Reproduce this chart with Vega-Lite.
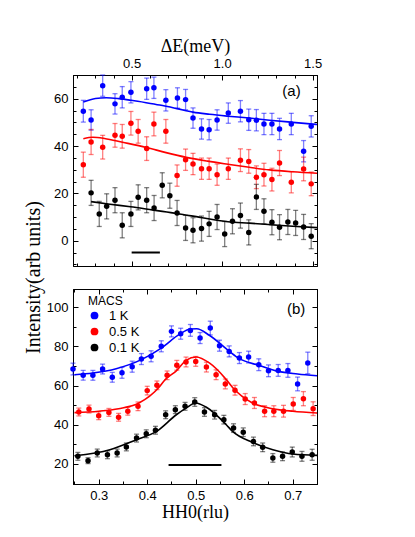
{
  "$schema": "https://vega.github.io/schema/vega-lite/v6.json",
  "background": "white",
  "autosize": {"type": "pad"},
  "padding": {"left": 22, "top": 36, "right": 5, "bottom": 5},
  "spacing": 23,
  "bounds": "flush",
  "resolve": {"scale": {"color": "independent", "x": "independent", "y": "independent"}, "legend": {"color": "independent"}},
  "datasets": {
    "a_pts": [
      {"E": 0.233, "v": 54.7, "e": 4.6, "T": "1 K"},
      {"E": 0.276, "v": 51.0, "e": 4.3, "T": "1 K"},
      {"E": 0.340, "v": 65.5, "e": 4.5, "T": "1 K"},
      {"E": 0.408, "v": 57.8, "e": 4.3, "T": "1 K"},
      {"E": 0.448, "v": 60.6, "e": 4.5, "T": "1 K"},
      {"E": 0.496, "v": 62.7, "e": 4.5, "T": "1 K"},
      {"E": 0.583, "v": 64.2, "e": 4.5, "T": "1 K"},
      {"E": 0.623, "v": 64.6, "e": 4.5, "T": "1 K"},
      {"E": 0.689, "v": 59.3, "e": 4.5, "T": "1 K"},
      {"E": 0.753, "v": 60.3, "e": 4.3, "T": "1 K"},
      {"E": 0.798, "v": 59.6, "e": 4.3, "T": "1 K"},
      {"E": 0.839, "v": 51.8, "e": 4.3, "T": "1 K"},
      {"E": 0.886, "v": 47.2, "e": 4.3, "T": "1 K"},
      {"E": 0.928, "v": 46.9, "e": 4.3, "T": "1 K"},
      {"E": 0.972, "v": 51.0, "e": 4.3, "T": "1 K"},
      {"E": 1.034, "v": 53.9, "e": 4.3, "T": "1 K"},
      {"E": 1.101, "v": 54.7, "e": 4.5, "T": "1 K"},
      {"E": 1.147, "v": 51.1, "e": 4.5, "T": "1 K"},
      {"E": 1.189, "v": 50.9, "e": 4.5, "T": "1 K"},
      {"E": 1.231, "v": 49.3, "e": 4.5, "T": "1 K"},
      {"E": 1.275, "v": 49.3, "e": 4.5, "T": "1 K"},
      {"E": 1.317, "v": 47.2, "e": 4.5, "T": "1 K"},
      {"E": 1.382, "v": 49.3, "e": 4.5, "T": "1 K"},
      {"E": 1.450, "v": 37.8, "e": 4.5, "T": "1 K"},
      {"E": 1.492, "v": 48.3, "e": 4.5, "T": "1 K"},
      {"E": 0.233, "v": 32.1, "e": 5.3, "T": "0.5 K"},
      {"E": 0.276, "v": 41.7, "e": 5.3, "T": "0.5 K"},
      {"E": 0.340, "v": 39.5, "e": 5.0, "T": "0.5 K"},
      {"E": 0.408, "v": 44.5, "e": 5.0, "T": "0.5 K"},
      {"E": 0.448, "v": 44.1, "e": 5.0, "T": "0.5 K"},
      {"E": 0.496, "v": 49.6, "e": 5.0, "T": "0.5 K"},
      {"E": 0.536, "v": 46.2, "e": 5.0, "T": "0.5 K"},
      {"E": 0.583, "v": 38.9, "e": 5.0, "T": "0.5 K"},
      {"E": 0.623, "v": 49.3, "e": 5.0, "T": "0.5 K"},
      {"E": 0.689, "v": 46.2, "e": 5.0, "T": "0.5 K"},
      {"E": 0.751, "v": 27.5, "e": 4.5, "T": "0.5 K"},
      {"E": 0.798, "v": 34.2, "e": 4.5, "T": "0.5 K"},
      {"E": 0.839, "v": 32.4, "e": 4.5, "T": "0.5 K"},
      {"E": 0.886, "v": 30.4, "e": 4.5, "T": "0.5 K"},
      {"E": 0.928, "v": 30.4, "e": 4.5, "T": "0.5 K"},
      {"E": 0.972, "v": 27.9, "e": 4.5, "T": "0.5 K"},
      {"E": 1.034, "v": 30.4, "e": 4.5, "T": "0.5 K"},
      {"E": 1.101, "v": 34.0, "e": 4.8, "T": "0.5 K"},
      {"E": 1.147, "v": 33.5, "e": 5.0, "T": "0.5 K"},
      {"E": 1.189, "v": 26.8, "e": 4.8, "T": "0.5 K"},
      {"E": 1.231, "v": 27.9, "e": 4.8, "T": "0.5 K"},
      {"E": 1.275, "v": 25.8, "e": 4.8, "T": "0.5 K"},
      {"E": 1.317, "v": 32.8, "e": 5.3, "T": "0.5 K"},
      {"E": 1.382, "v": 24.7, "e": 4.5, "T": "0.5 K"},
      {"E": 1.450, "v": 30.3, "e": 5.0, "T": "0.5 K"},
      {"E": 1.492, "v": 24.0, "e": 5.0, "T": "0.5 K"},
      {"E": 0.276, "v": 20.2, "e": 5.3, "T": "0.1 K"},
      {"E": 0.321, "v": 11.3, "e": 5.3, "T": "0.1 K"},
      {"E": 0.362, "v": 14.5, "e": 5.3, "T": "0.1 K"},
      {"E": 0.408, "v": 17.1, "e": 5.3, "T": "0.1 K"},
      {"E": 0.448, "v": 6.5, "e": 5.3, "T": "0.1 K"},
      {"E": 0.496, "v": 11.3, "e": 5.3, "T": "0.1 K"},
      {"E": 0.536, "v": 18.3, "e": 5.3, "T": "0.1 K"},
      {"E": 0.583, "v": 17.1, "e": 5.3, "T": "0.1 K"},
      {"E": 0.624, "v": 13.8, "e": 5.3, "T": "0.1 K"},
      {"E": 0.669, "v": 23.4, "e": 5.3, "T": "0.1 K"},
      {"E": 0.711, "v": 19.0, "e": 5.3, "T": "0.1 K"},
      {"E": 0.751, "v": 11.7, "e": 5.3, "T": "0.1 K"},
      {"E": 0.798, "v": 5.4, "e": 5.3, "T": "0.1 K"},
      {"E": 0.839, "v": 4.4, "e": 5.3, "T": "0.1 K"},
      {"E": 0.886, "v": 5.1, "e": 5.3, "T": "0.1 K"},
      {"E": 0.928, "v": 7.1, "e": 5.3, "T": "0.1 K"},
      {"E": 0.972, "v": 10.0, "e": 5.3, "T": "0.1 K"},
      {"E": 1.014, "v": 2.8, "e": 5.3, "T": "0.1 K"},
      {"E": 1.057, "v": 8.2, "e": 5.3, "T": "0.1 K"},
      {"E": 1.101, "v": 10.6, "e": 5.3, "T": "0.1 K"},
      {"E": 1.147, "v": 3.5, "e": 5.3, "T": "0.1 K"},
      {"E": 1.189, "v": 18.5, "e": 5.3, "T": "0.1 K"},
      {"E": 1.231, "v": 12.4, "e": 5.3, "T": "0.1 K"},
      {"E": 1.275, "v": 7.8, "e": 5.3, "T": "0.1 K"},
      {"E": 1.317, "v": 5.7, "e": 5.3, "T": "0.1 K"},
      {"E": 1.363, "v": 7.9, "e": 5.3, "T": "0.1 K"},
      {"E": 1.406, "v": 7.5, "e": 5.3, "T": "0.1 K"},
      {"E": 1.450, "v": 5.8, "e": 5.3, "T": "0.1 K"},
      {"E": 1.492, "v": 1.9, "e": 5.3, "T": "0.1 K"}
    ],
    "a_fit": [
      {"E": 0.233, "v": 58.6, "T": "1 K"},
      {"E": 0.30, "v": 60.1, "T": "1 K"},
      {"E": 0.36, "v": 60.4, "T": "1 K"},
      {"E": 0.43, "v": 60.0, "T": "1 K"},
      {"E": 0.498, "v": 59.3, "T": "1 K"},
      {"E": 0.58, "v": 58.3, "T": "1 K"},
      {"E": 0.655, "v": 57.3, "T": "1 K"},
      {"E": 0.75, "v": 55.8, "T": "1 K"},
      {"E": 0.839, "v": 54.3, "T": "1 K"},
      {"E": 0.93, "v": 53.4, "T": "1 K"},
      {"E": 1.032, "v": 52.6, "T": "1 K"},
      {"E": 1.15, "v": 51.8, "T": "1 K"},
      {"E": 1.262, "v": 50.9, "T": "1 K"},
      {"E": 1.39, "v": 50.0, "T": "1 K"},
      {"E": 1.524, "v": 49.1, "T": "1 K"},
      {"E": 0.233, "v": 43.1, "T": "0.5 K"},
      {"E": 0.286, "v": 43.7, "T": "0.5 K"},
      {"E": 0.35, "v": 43.2, "T": "0.5 K"},
      {"E": 0.45, "v": 41.6, "T": "0.5 K"},
      {"E": 0.581, "v": 39.4, "T": "0.5 K"},
      {"E": 0.69, "v": 37.2, "T": "0.5 K"},
      {"E": 0.802, "v": 35.2, "T": "0.5 K"},
      {"E": 0.92, "v": 33.6, "T": "0.5 K"},
      {"E": 1.032, "v": 32.3, "T": "0.5 K"},
      {"E": 1.15, "v": 31.0, "T": "0.5 K"},
      {"E": 1.262, "v": 29.9, "T": "0.5 K"},
      {"E": 1.39, "v": 29.1, "T": "0.5 K"},
      {"E": 1.524, "v": 28.5, "T": "0.5 K"},
      {"E": 0.276, "v": 16.5, "T": "0.1 K"},
      {"E": 0.38, "v": 15.4, "T": "0.1 K"},
      {"E": 0.494, "v": 14.3, "T": "0.1 K"},
      {"E": 0.62, "v": 12.9, "T": "0.1 K"},
      {"E": 0.75, "v": 11.5, "T": "0.1 K"},
      {"E": 0.89, "v": 9.7, "T": "0.1 K"},
      {"E": 1.032, "v": 8.0, "T": "0.1 K"},
      {"E": 1.15, "v": 7.4, "T": "0.1 K"},
      {"E": 1.262, "v": 6.8, "T": "0.1 K"},
      {"E": 1.39, "v": 6.1, "T": "0.1 K"},
      {"E": 1.524, "v": 5.5, "T": "0.1 K"}
    ],
    "a_bar": [{"x1": 0.5, "x2": 0.656, "y": -5}],
    "b_pts": [
      {"H": 0.247, "v": 68.4, "e": 3.0, "T": "1 K"},
      {"H": 0.268, "v": 65.2, "e": 2.5, "T": "1 K"},
      {"H": 0.288, "v": 65.2, "e": 2.5, "T": "1 K"},
      {"H": 0.308, "v": 68.4, "e": 2.5, "T": "1 K"},
      {"H": 0.328, "v": 64.2, "e": 2.5, "T": "1 K"},
      {"H": 0.348, "v": 66.5, "e": 2.8, "T": "1 K"},
      {"H": 0.369, "v": 69.6, "e": 2.8, "T": "1 K"},
      {"H": 0.388, "v": 73.5, "e": 2.8, "T": "1 K"},
      {"H": 0.408, "v": 74.9, "e": 2.8, "T": "1 K"},
      {"H": 0.429, "v": 80.0, "e": 2.8, "T": "1 K"},
      {"H": 0.450, "v": 87.6, "e": 2.8, "T": "1 K"},
      {"H": 0.469, "v": 86.4, "e": 2.8, "T": "1 K"},
      {"H": 0.489, "v": 88.1, "e": 3.0, "T": "1 K"},
      {"H": 0.509, "v": 84.2, "e": 2.8, "T": "1 K"},
      {"H": 0.530, "v": 89.3, "e": 3.5, "T": "1 K"},
      {"H": 0.549, "v": 80.3, "e": 2.8, "T": "1 K"},
      {"H": 0.569, "v": 77.4, "e": 2.8, "T": "1 K"},
      {"H": 0.590, "v": 74.0, "e": 2.8, "T": "1 K"},
      {"H": 0.609, "v": 74.5, "e": 3.0, "T": "1 K"},
      {"H": 0.630, "v": 70.6, "e": 3.0, "T": "1 K"},
      {"H": 0.650, "v": 67.5, "e": 3.0, "T": "1 K"},
      {"H": 0.670, "v": 67.7, "e": 3.0, "T": "1 K"},
      {"H": 0.690, "v": 67.7, "e": 3.5, "T": "1 K"},
      {"H": 0.710, "v": 60.8, "e": 3.5, "T": "1 K"},
      {"H": 0.731, "v": 71.5, "e": 5.5, "T": "1 K"},
      {"H": 0.259, "v": 46.5, "e": 2.0, "T": "0.5 K"},
      {"H": 0.280, "v": 48.0, "e": 2.0, "T": "0.5 K"},
      {"H": 0.300, "v": 44.6, "e": 2.0, "T": "0.5 K"},
      {"H": 0.321, "v": 46.3, "e": 2.0, "T": "0.5 K"},
      {"H": 0.341, "v": 43.8, "e": 2.0, "T": "0.5 K"},
      {"H": 0.360, "v": 46.9, "e": 2.0, "T": "0.5 K"},
      {"H": 0.381, "v": 49.4, "e": 2.2, "T": "0.5 K"},
      {"H": 0.400, "v": 57.4, "e": 2.2, "T": "0.5 K"},
      {"H": 0.420, "v": 60.1, "e": 2.2, "T": "0.5 K"},
      {"H": 0.441, "v": 65.2, "e": 2.2, "T": "0.5 K"},
      {"H": 0.461, "v": 70.3, "e": 2.5, "T": "0.5 K"},
      {"H": 0.480, "v": 72.0, "e": 2.5, "T": "0.5 K"},
      {"H": 0.500, "v": 72.3, "e": 2.5, "T": "0.5 K"},
      {"H": 0.522, "v": 69.4, "e": 2.5, "T": "0.5 K"},
      {"H": 0.542, "v": 65.5, "e": 2.5, "T": "0.5 K"},
      {"H": 0.561, "v": 60.8, "e": 2.5, "T": "0.5 K"},
      {"H": 0.581, "v": 57.6, "e": 2.5, "T": "0.5 K"},
      {"H": 0.602, "v": 53.1, "e": 2.8, "T": "0.5 K"},
      {"H": 0.621, "v": 51.1, "e": 2.8, "T": "0.5 K"},
      {"H": 0.642, "v": 46.9, "e": 2.8, "T": "0.5 K"},
      {"H": 0.661, "v": 46.9, "e": 2.8, "T": "0.5 K"},
      {"H": 0.681, "v": 46.9, "e": 3.0, "T": "0.5 K"},
      {"H": 0.701, "v": 50.6, "e": 3.3, "T": "0.5 K"},
      {"H": 0.722, "v": 53.3, "e": 3.6, "T": "0.5 K"},
      {"H": 0.742, "v": 48.2, "e": 3.5, "T": "0.5 K"},
      {"H": 0.257, "v": 23.9, "e": 2.0, "T": "0.1 K"},
      {"H": 0.278, "v": 21.7, "e": 1.5, "T": "0.1 K"},
      {"H": 0.297, "v": 25.6, "e": 2.0, "T": "0.1 K"},
      {"H": 0.318, "v": 24.7, "e": 2.0, "T": "0.1 K"},
      {"H": 0.338, "v": 25.6, "e": 2.0, "T": "0.1 K"},
      {"H": 0.357, "v": 28.7, "e": 2.0, "T": "0.1 K"},
      {"H": 0.378, "v": 33.2, "e": 2.0, "T": "0.1 K"},
      {"H": 0.398, "v": 35.4, "e": 2.0, "T": "0.1 K"},
      {"H": 0.417, "v": 37.2, "e": 2.0, "T": "0.1 K"},
      {"H": 0.438, "v": 45.1, "e": 2.0, "T": "0.1 K"},
      {"H": 0.458, "v": 47.7, "e": 2.0, "T": "0.1 K"},
      {"H": 0.478, "v": 49.4, "e": 2.0, "T": "0.1 K"},
      {"H": 0.498, "v": 51.6, "e": 2.2, "T": "0.1 K"},
      {"H": 0.518, "v": 46.5, "e": 2.2, "T": "0.1 K"},
      {"H": 0.539, "v": 45.1, "e": 2.2, "T": "0.1 K"},
      {"H": 0.558, "v": 42.6, "e": 2.2, "T": "0.1 K"},
      {"H": 0.578, "v": 38.3, "e": 2.2, "T": "0.1 K"},
      {"H": 0.598, "v": 36.2, "e": 2.2, "T": "0.1 K"},
      {"H": 0.619, "v": 31.5, "e": 2.2, "T": "0.1 K"},
      {"H": 0.638, "v": 28.5, "e": 2.2, "T": "0.1 K"},
      {"H": 0.659, "v": 23.1, "e": 2.2, "T": "0.1 K"},
      {"H": 0.679, "v": 23.9, "e": 2.2, "T": "0.1 K"},
      {"H": 0.699, "v": 26.1, "e": 2.5, "T": "0.1 K"},
      {"H": 0.719, "v": 23.9, "e": 2.5, "T": "0.1 K"},
      {"H": 0.740, "v": 24.7, "e": 2.8, "T": "0.1 K"}
    ],
    "b_fit": [
      {"H": 0.25, "v": 65.5, "T": "1 K"},
      {"H": 0.288, "v": 66.4, "T": "1 K"},
      {"H": 0.336, "v": 68.6, "T": "1 K"},
      {"H": 0.388, "v": 73.2, "T": "1 K"},
      {"H": 0.429, "v": 79.1, "T": "1 K"},
      {"H": 0.467, "v": 86.2, "T": "1 K"},
      {"H": 0.489, "v": 88.8, "T": "1 K"},
      {"H": 0.502, "v": 88.9, "T": "1 K"},
      {"H": 0.528, "v": 85.6, "T": "1 K"},
      {"H": 0.568, "v": 77.7, "T": "1 K"},
      {"H": 0.590, "v": 73.7, "T": "1 K"},
      {"H": 0.630, "v": 70.3, "T": "1 K"},
      {"H": 0.670, "v": 67.2, "T": "1 K"},
      {"H": 0.710, "v": 65.9, "T": "1 K"},
      {"H": 0.75, "v": 65.0, "T": "1 K"},
      {"H": 0.25, "v": 46.2, "T": "0.5 K"},
      {"H": 0.30, "v": 46.9, "T": "0.5 K"},
      {"H": 0.341, "v": 48.2, "T": "0.5 K"},
      {"H": 0.383, "v": 51.1, "T": "0.5 K"},
      {"H": 0.424, "v": 59.0, "T": "0.5 K"},
      {"H": 0.437, "v": 63.0, "T": "0.5 K"},
      {"H": 0.46, "v": 67.5, "T": "0.5 K"},
      {"H": 0.48, "v": 72.8, "T": "0.5 K"},
      {"H": 0.501, "v": 74.5, "T": "0.5 K"},
      {"H": 0.528, "v": 71.5, "T": "0.5 K"},
      {"H": 0.563, "v": 63.0, "T": "0.5 K"},
      {"H": 0.576, "v": 59.0, "T": "0.5 K"},
      {"H": 0.617, "v": 51.1, "T": "0.5 K"},
      {"H": 0.659, "v": 48.2, "T": "0.5 K"},
      {"H": 0.70, "v": 46.9, "T": "0.5 K"},
      {"H": 0.75, "v": 46.0, "T": "0.5 K"},
      {"H": 0.25, "v": 24.2, "T": "0.1 K"},
      {"H": 0.323, "v": 27.3, "T": "0.1 K"},
      {"H": 0.378, "v": 32.4, "T": "0.1 K"},
      {"H": 0.419, "v": 36.6, "T": "0.1 K"},
      {"H": 0.46, "v": 45.1, "T": "0.1 K"},
      {"H": 0.48, "v": 48.5, "T": "0.1 K"},
      {"H": 0.50, "v": 51.1, "T": "0.1 K"},
      {"H": 0.522, "v": 48.9, "T": "0.1 K"},
      {"H": 0.563, "v": 40.0, "T": "0.1 K"},
      {"H": 0.576, "v": 36.6, "T": "0.1 K"},
      {"H": 0.617, "v": 31.0, "T": "0.1 K"},
      {"H": 0.659, "v": 27.3, "T": "0.1 K"},
      {"H": 0.70, "v": 25.1, "T": "0.1 K"},
      {"H": 0.75, "v": 24.4, "T": "0.1 K"}
    ],
    "b_bar": [{"x1": 0.444, "x2": 0.553, "y": 19.5}]
  },
  "vconcat": [
    {
      "width": 244,
      "height": 191,
      "resolve": {"axis": {"x": "independent", "y": "independent"}},
      "layer": [
        {
          "data": {"name": "a_fit"},
          "mark": {"type": "line", "strokeWidth": 1.6, "interpolate": "monotone"},
          "encoding": {
            "x": {"field": "E", "type": "quantitative",
              "scale": {"domain": [0.176, 1.524], "nice": false, "zero": false},
              "axis": {"orient": "top", "title": "ΔE(meV)", "titlePadding": 2,
                "values": [0.2, 0.3, 0.4, 0.5, 0.6, 0.7, 0.8, 0.9, 1.0, 1.1, 1.2, 1.3, 1.4, 1.5],
                "labelExpr": "abs(datum.value*2-round(datum.value*2))<0.001 ? format(datum.value,'.1f') : ''",
                "tickSize": {"condition": {"test": "abs(datum.value*2-round(datum.value*2))<0.001", "value": -5}, "value": -3}}},
            "y": {"field": "v", "type": "quantitative",
              "scale": {"domain": [-10.7, 70], "nice": false, "zero": false},
              "axis": {"orient": "left", "title": null,
                "values": [-10, -5, 0, 5, 10, 15, 20, 25, 30, 35, 40, 45, 50, 55, 60, 65, 70],
                "labelExpr": "datum.value % 20 === 0 ? datum.label : ''",
                "tickSize": {"condition": {"test": "datum.value % 20 === 0", "value": -5}, "value": -3}}},
            "color": {"field": "T", "type": "nominal",
              "scale": {"domain": ["1 K", "0.5 K", "0.1 K"], "range": ["#0000ff", "#ff0000", "#000000"]},
              "legend": null}
          }
        },
        {
          "data": {"name": "a_fit"},
          "mark": {"type": "point", "opacity": 0},
          "encoding": {
            "x": {"field": "E", "type": "quantitative",
              "axis": {"orient": "bottom", "title": null, "labels": false,
                "values": [0.2, 0.3, 0.4, 0.5, 0.6, 0.7, 0.8, 0.9, 1.0, 1.1, 1.2, 1.3, 1.4, 1.5],
                "tickSize": {"condition": {"test": "abs(datum.value*2-round(datum.value*2))<0.001", "value": -5}, "value": -3}}},
            "y": {"field": "v", "type": "quantitative",
              "axis": {"orient": "right", "title": null, "labels": false,
                "values": [-10, -5, 0, 5, 10, 15, 20, 25, 30, 35, 40, 45, 50, 55, 60, 65, 70],
                "tickSize": {"condition": {"test": "datum.value % 20 === 0", "value": -5}, "value": -3}}}
          }
        },
        {
          "data": {"name": "a_pts"},
          "mark": {"type": "errorbar", "ticks": true, "size": 5, "thickness": 1.3, "opacity": 0.5},
          "encoding": {
            "x": {"field": "E", "type": "quantitative", "axis": null},
            "y": {"field": "v", "type": "quantitative", "axis": null},
            "yError": {"field": "e"},
            "color": {"field": "T", "type": "nominal", "legend": null}
          }
        },
        {
          "data": {"name": "a_pts"},
          "mark": {"type": "circle", "size": 30, "opacity": 1},
          "encoding": {
            "x": {"field": "E", "type": "quantitative", "axis": null},
            "y": {"field": "v", "type": "quantitative", "axis": null},
            "color": {"field": "T", "type": "nominal", "legend": null}
          }
        },
        {
          "data": {"name": "a_bar"},
          "mark": {"type": "rule", "color": "black", "strokeWidth": 2},
          "encoding": {
            "x": {"field": "x1", "type": "quantitative", "axis": null},
            "x2": {"field": "x2"},
            "y": {"field": "y", "type": "quantitative", "axis": null}
          }
        },
        {
          "data": {"values": [{"label": "(a)"}]},
          "mark": {"type": "text", "font": "Liberation Sans", "fontSize": 15, "color": "black", "align": "center", "baseline": "middle"},
          "encoding": {
            "text": {"field": "label"},
            "x": {"datum": 1.383, "type": "quantitative", "axis": null},
            "y": {"datum": 63.2, "type": "quantitative", "axis": null}
          }
        }
      ]
    },
    {
      "width": 244,
      "height": 195,
      "resolve": {"axis": {"x": "independent", "y": "independent"}},
      "layer": [
        {
          "data": {"name": "b_pts"},
          "mark": {"type": "circle", "size": 30, "opacity": 1},
          "encoding": {
            "x": {"field": "H", "type": "quantitative",
              "scale": {"domain": [0.247, 0.75], "nice": false, "zero": false},
              "axis": {"orient": "bottom", "title": "HH0(rlu)", "titlePadding": 1,
                "values": [0.25, 0.3, 0.35, 0.4, 0.45, 0.5, 0.55, 0.6, 0.65, 0.7, 0.75],
                "labelExpr": "abs(datum.value*10-round(datum.value*10))<0.001 ? format(datum.value,'.1f') : ''",
                "tickSize": {"condition": {"test": "abs(datum.value*10-round(datum.value*10))<0.001", "value": -5}, "value": -3}}},
            "y": {"field": "v", "type": "quantitative",
              "scale": {"domain": [9.8, 109.2], "nice": false, "zero": false},
              "axis": {"orient": "left", "title": "Intensity(arb units)", "titleX": -30, "titleY": -12, "titleFontSize": 20,
                "values": [10, 20, 30, 40, 50, 60, 70, 80, 90, 100],
                "labelExpr": "datum.value % 20 === 0 ? datum.label : ''",
                "tickSize": {"condition": {"test": "datum.value % 20 === 0", "value": -5}, "value": -3}}},
            "color": {"field": "T", "type": "nominal",
              "scale": {"domain": ["1 K", "0.5 K", "0.1 K"], "range": ["#0000ff", "#ff0000", "#000000"]},
              "legend": {"orient": "none", "legendX": 15, "legendY": 7, "title": "MACS",
                "titleFont": "Liberation Sans", "titleFontSize": 12, "titleFontWeight": "normal", "titleColor": "black",
                "labelFont": "Liberation Sans", "labelFontSize": 13, "labelColor": "black",
                "symbolType": "circle", "symbolSize": 60, "symbolStrokeWidth": 0, "symbolOpacity": 1, "rowPadding": 2, "labelOffset": 8, "titlePadding": 1}}
          }
        },
        {
          "data": {"name": "b_fit"},
          "mark": {"type": "point", "opacity": 0},
          "encoding": {
            "x": {"field": "H", "type": "quantitative",
              "axis": {"orient": "top", "title": null, "labels": false,
                "values": [0.25, 0.3, 0.35, 0.4, 0.45, 0.5, 0.55, 0.6, 0.65, 0.7, 0.75],
                "tickSize": {"condition": {"test": "abs(datum.value*10-round(datum.value*10))<0.001", "value": -5}, "value": -3}}},
            "y": {"field": "v", "type": "quantitative",
              "axis": {"orient": "right", "title": null, "labels": false,
                "values": [10, 20, 30, 40, 50, 60, 70, 80, 90, 100],
                "tickSize": {"condition": {"test": "datum.value % 20 === 0", "value": -5}, "value": -3}}}
          }
        },
        {
          "data": {"name": "b_pts"},
          "mark": {"type": "errorbar", "ticks": true, "size": 5, "thickness": 1.3, "opacity": 0.5},
          "encoding": {
            "x": {"field": "H", "type": "quantitative", "axis": null},
            "y": {"field": "v", "type": "quantitative", "axis": null},
            "yError": {"field": "e"},
            "color": {"field": "T", "type": "nominal", "legend": null}
          }
        },
        {
          "data": {"name": "b_fit"},
          "mark": {"type": "line", "strokeWidth": 1.6, "interpolate": "monotone"},
          "encoding": {
            "x": {"field": "H", "type": "quantitative", "axis": null},
            "y": {"field": "v", "type": "quantitative", "axis": null},
            "color": {"field": "T", "type": "nominal", "legend": null}
          }
        },
        {
          "data": {"name": "b_bar"},
          "mark": {"type": "rule", "color": "black", "strokeWidth": 2},
          "encoding": {
            "x": {"field": "x1", "type": "quantitative", "axis": null},
            "x2": {"field": "x2"},
            "y": {"field": "y", "type": "quantitative", "axis": null}
          }
        },
        {
          "data": {"values": [{"label": "(b)"}]},
          "mark": {"type": "text", "font": "Liberation Sans", "fontSize": 15, "color": "black", "align": "center", "baseline": "middle"},
          "encoding": {
            "text": {"field": "label"},
            "x": {"datum": 0.707, "type": "quantitative", "axis": null},
            "y": {"datum": 99.0, "type": "quantitative", "axis": null}
          }
        }
      ]
    }
  ],
  "config": {
    "view": {"stroke": "black", "strokeWidth": 1},
    "axis": {
      "grid": false, "domainColor": "black", "domainWidth": 1, "tickColor": "black", "tickWidth": 1,
      "labelColor": "black", "labelFont": "Liberation Sans", "labelFontSize": 13, "labelPadding": 10,
      "titleFont": "Liberation Serif", "titleFontSize": 18, "titleFontWeight": "normal", "titleColor": "black"
    }
  }
}
